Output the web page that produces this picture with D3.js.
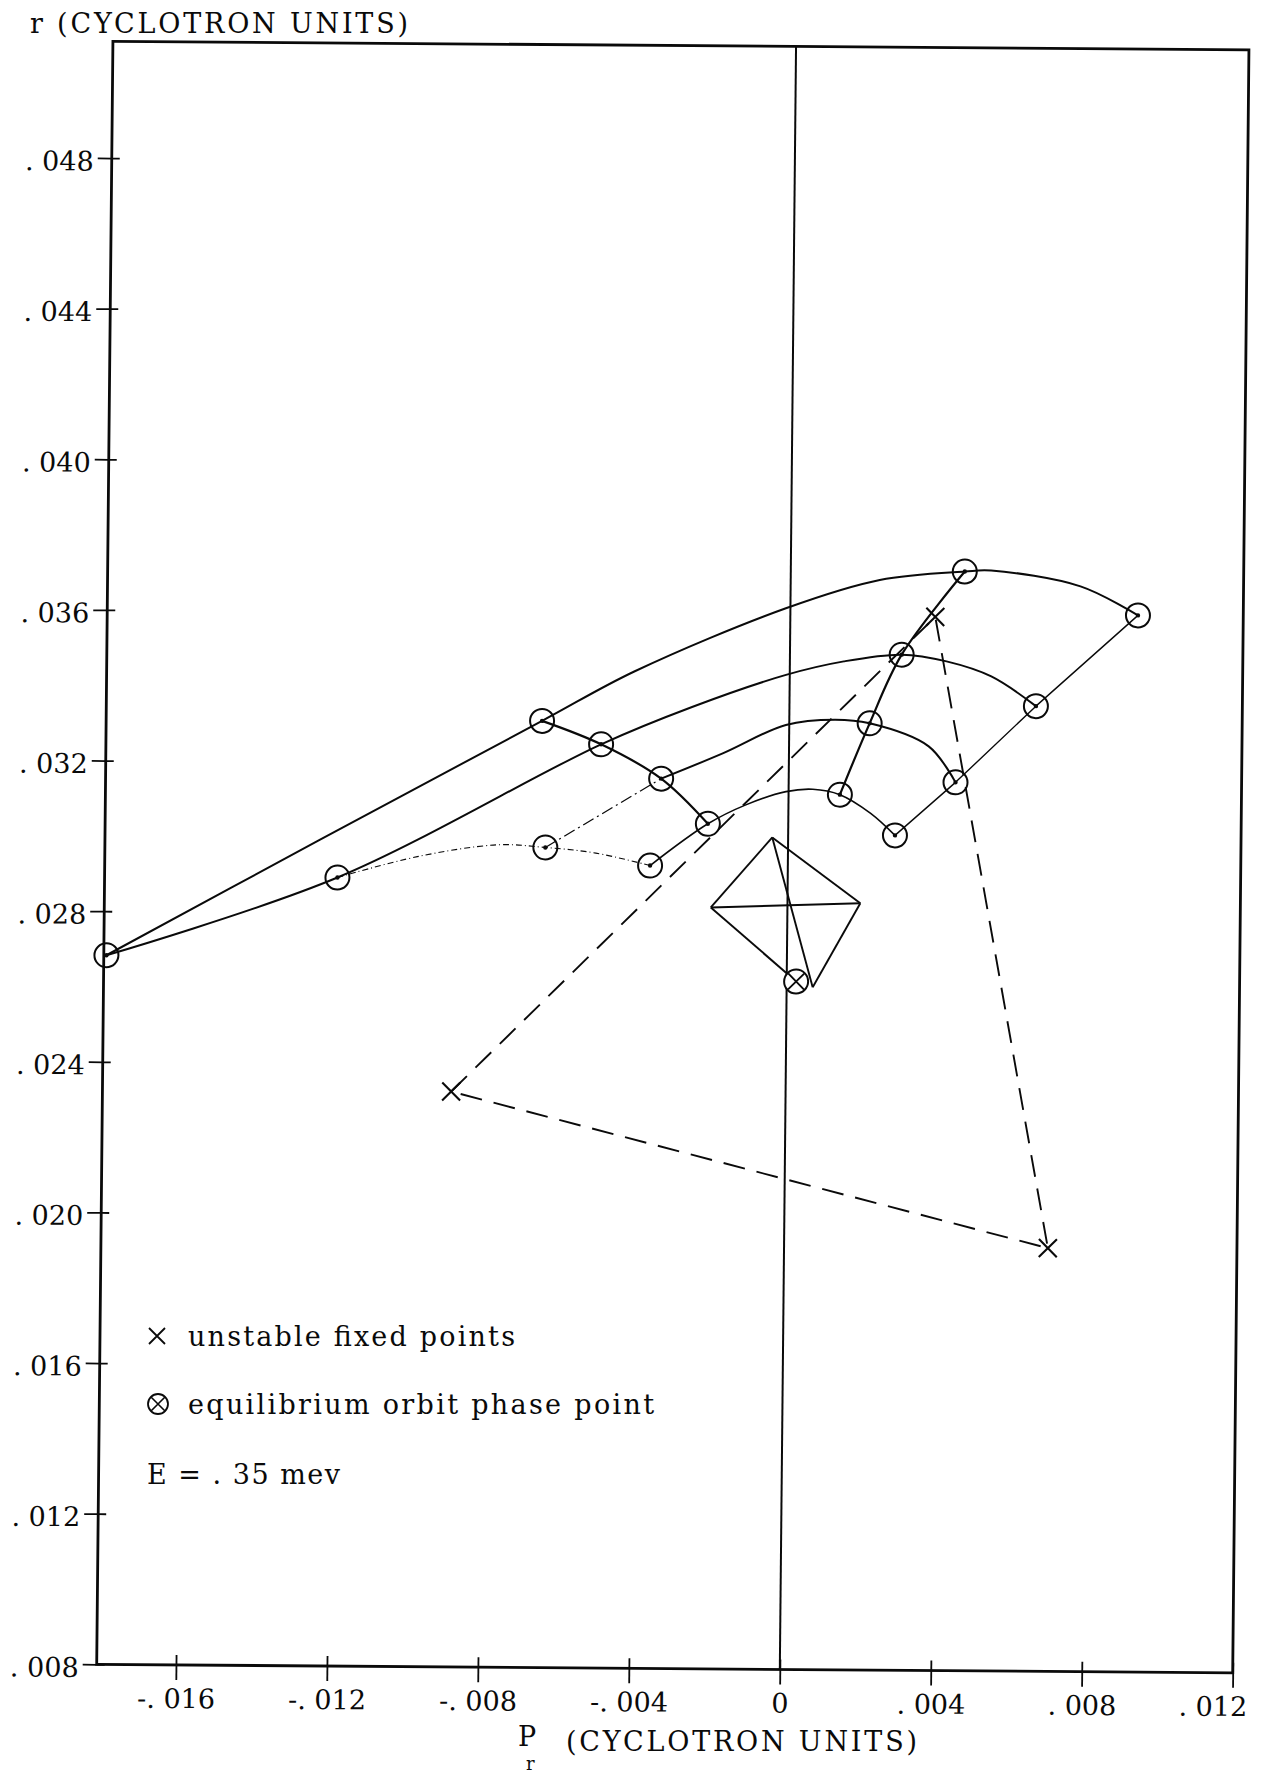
<!DOCTYPE html>
<html>
<head>
<meta charset="utf-8">
<script src="https://cdn.jsdelivr.net/npm/d3@7/dist/d3.min.js"></script>
<style>
body { margin: 0; background: #fff; }
svg { display: block; }
text { font-family: "DejaVu Serif", serif; fill: #0a0a0a; }
.axis text { font-size: 27px; font-family: "DejaVu Serif", serif; fill: #0a0a0a; }
</style>
</head>
<body>
<div class="chart"></div>
<script>
// values, (Pr, r) in cyclotron units
var xTicks = [-0.016, -0.012, -0.008, -0.004, 0, 0.004, 0.008, 0.012];
var yTicks = [0.008, 0.012, 0.016, 0.020, 0.024, 0.028, 0.032, 0.036, 0.040, 0.044, 0.048];
var xMin = -0.0181, xMax = 0.012, yMin = 0.008, yMax = 0.0511;

// phase points (circles)
var phasePoints = [
  [-0.01803, 0.02683], [-0.01193, 0.02894], [-0.00655, 0.03314], [-0.00498, 0.03253],
  [-0.00338, 0.03163], [-0.00213, 0.03044], [-0.00643, 0.02978], [-0.00365, 0.02932],
  [0.00136, 0.03124], [0.00283, 0.03017], [0.00213, 0.03314], [0.00442, 0.03159],
  [0.00296, 0.03497], [0.00653, 0.03363], [0.00461, 0.03719], [0.00921, 0.03606]
];
var unstablePoints = [[-0.00886, 0.02328], [0.00384, 0.03598], [0.00699, 0.01924], [-0.00886, 0.02328]];
var eqPoint = [0.00025, 0.02627];

// trajectories
var outerCurve = [[-0.01803, 0.02683], [-0.01240, 0.02994], [-0.00655, 0.03314], [-0.00412, 0.03447],
  [-0.00012, 0.03618], [0.00236, 0.03695], [0.00461, 0.03719], [0.00531, 0.03722],
  [0.00768, 0.03682], [0.00921, 0.03606]];
var secondCurve = [[-0.01803, 0.02683], [-0.01193, 0.02894], [-0.00498, 0.03253], [-0.00258, 0.03354],
  [-0.00010, 0.03441], [0.00143, 0.03478], [0.00296, 0.03497], [0.00415, 0.03480],
  [0.00534, 0.03441], [0.00653, 0.03363]];
var thirdLead = [[-0.00643, 0.02978], [-0.00338, 0.03163]];
var thirdCurve = [[-0.00338, 0.03163], [-0.00174, 0.03232], [-0.00009, 0.03308], [0.00121, 0.03323],
  [0.00213, 0.03314], [0.00370, 0.03254], [0.00442, 0.03159]];
var fourthCurve = [[-0.00365, 0.02932], [-0.00213, 0.03044], [-0.00113, 0.03095], [-0.00007, 0.03131],
  [0.00064, 0.03138], [0.00136, 0.03124], [0.00218, 0.03075], [0.00283, 0.03017]];
var dottedCurve = [[-0.01193, 0.02894], [-0.00982, 0.02951], [-0.00769, 0.02984], [-0.00643, 0.02978],
  [-0.00509, 0.02964], [-0.00365, 0.02932]];
var leftChain = [[-0.00655, 0.03314], [-0.00498, 0.03253], [-0.00338, 0.03163], [-0.00213, 0.03044]];
var midChain = [[0.00461, 0.03719], [0.00296, 0.03497], [0.00213, 0.03314], [0.00136, 0.03124]];
var rightChain = [[0.00921, 0.03606], [0.00653, 0.03363], [0.00442, 0.03159], [0.00283, 0.03017]];

// small quadrilateral around the equilibrium point
var quadTop = [-0.00042, 0.03009], quadLeft = [-0.00203, 0.02822],
    quadRight = [0.00193, 0.02836], quadBottom = [0.00069, 0.02612];
var quadSegments = [[quadLeft, quadTop], [quadTop, quadRight], [quadLeft, quadRight],
  [quadTop, quadBottom], [quadRight, quadBottom], [quadLeft, eqPoint]];

var svgWidth = 1266, svgHeight = 1775;
var plotW = 1136, plotH = 1623;

var svg = d3.select(".chart").append("svg")
  .attr("width", svgWidth)
  .attr("height", svgHeight);
svg.append("rect").attr("width", svgWidth).attr("height", svgHeight).attr("fill", "#fff");

// the scanned page is a little skewed, so the plot gets a small shear
var chart = svg.append("g").attr("transform", "matrix(1,0.0075,-0.01,1,96.7,1664.3)");

var x = d3.scaleLinear().domain([xMin, xMax]).range([0, plotW]);
var y = d3.scaleLinear().domain([yMin, yMax]).range([0, -plotH]);

var fmt = function(d) {
  if (d === 0) return "0";
  var s = String(Math.round(Math.abs(d) * 1000)).padStart(3, "0");
  return (d < 0 ? "-. " : ". ") + s;
};

// axes (ticks cross the frame line)
var xAxis = chart.append("g").attr("class", "axis")
  .call(d3.axisBottom(x).tickValues(xTicks).tickSize(15).tickPadding(9).tickFormat(fmt));
chart.append("g").call(d3.axisBottom(x).tickValues(xTicks).tickSize(-10).tickFormat(""));
var yAxis = chart.append("g").attr("class", "axis")
  .call(d3.axisLeft(y).tickValues(yTicks).tickSize(14).tickPadding(4).tickFormat(fmt));
chart.append("g").call(d3.axisLeft(y).tickValues(yTicks).tickSize(-8).tickFormat(""));
chart.selectAll(".domain").remove();
chart.selectAll(".tick line").attr("stroke", "#0a0a0a").attr("stroke-width", 1.8);
yAxis.selectAll("text").attr("dy", "0.45em");
xAxis.selectAll("text").filter(function(d) { return d === 0.012; }).attr("dx", -20);

// frame and zero line
chart.append("rect")
  .attr("x", x(xMin)).attr("y", y(yMax))
  .attr("width", x(xMax) - x(xMin)).attr("height", y(yMin) - y(yMax))
  .attr("fill", "none").attr("stroke", "#0a0a0a").attr("stroke-width", 2.8);
chart.append("line")
  .attr("x1", x(0)).attr("x2", x(0)).attr("y1", y(yMin)).attr("y2", y(yMax))
  .attr("stroke", "#0a0a0a").attr("stroke-width", 2);

var smooth = d3.line().x(function(d) { return x(d[0]); }).y(function(d) { return y(d[1]); })
  .curve(d3.curveCatmullRom.alpha(0.5));
var straight = d3.line().x(function(d) { return x(d[0]); }).y(function(d) { return y(d[1]); });

function draw(data, gen, width, dash) {
  chart.append("path")
    .attr("d", gen(data))
    .attr("fill", "none")
    .attr("stroke", "#0a0a0a")
    .attr("stroke-width", width)
    .attr("stroke-dasharray", dash || null)
    .attr("stroke-linejoin", "round");
}

draw(outerCurve, smooth, 2);
draw(secondCurve, smooth, 2);
draw(thirdLead, straight, 1.3, "12,4,2,4");
draw(thirdCurve, smooth, 2);
draw(fourthCurve, smooth, 1.6);
draw(dottedCurve, smooth, 1.1, "6,3,1,3");
draw(leftChain, smooth, 2.2);
draw(midChain, smooth, 2.2);
draw(rightChain, straight, 1.4);
draw(unstablePoints, straight, 1.9, "22,12");
quadSegments.forEach(function(s) { draw(s, straight, 1.9); });

// circles
chart.selectAll("circle.pt")
  .data(phasePoints)
  .enter()
  .append("circle")
  .attr("class", "pt")
  .attr("cx", function(d) { return x(d[0]); })
  .attr("cy", function(d) { return y(d[1]); })
  .attr("r", 12)
  .attr("fill", "none")
  .attr("stroke", "#0a0a0a")
  .attr("stroke-width", 2);
chart.selectAll("circle.dot")
  .data(phasePoints)
  .enter()
  .append("circle")
  .attr("class", "dot")
  .attr("cx", function(d) { return x(d[0]); })
  .attr("cy", function(d) { return y(d[1]); })
  .attr("r", 2.2)
  .attr("fill", "#0a0a0a");

// unstable fixed points
function cross(g, cx, cy, s, w) {
  g.append("path")
    .attr("d", "M" + (cx - s) + "," + (cy - s) + "L" + (cx + s) + "," + (cy + s) +
               "M" + (cx - s) + "," + (cy + s) + "L" + (cx + s) + "," + (cy - s))
    .attr("stroke", "#0a0a0a").attr("stroke-width", w).attr("fill", "none");
}
unstablePoints.slice(0, 3).forEach(function(d) { cross(chart, x(d[0]), y(d[1]), 9, 2.1); });

// equilibrium orbit phase point
chart.append("circle")
  .attr("cx", x(eqPoint[0])).attr("cy", y(eqPoint[1])).attr("r", 12)
  .attr("fill", "#fff").attr("stroke", "#0a0a0a").attr("stroke-width", 2);
cross(chart, x(eqPoint[0]), y(eqPoint[1]), 8, 1.9);

// titles
svg.append("text").attr("x", 30).attr("y", 33).attr("font-size", 27)
  .attr("textLength", 378).attr("lengthAdjust", "spacing")
  .text("r (CYCLOTRON UNITS)");
svg.append("text").attr("x", 518).attr("y", 1746).attr("font-size", 27).text("P");
svg.append("text").attr("x", 526).attr("y", 1770).attr("font-size", 18).text("r");
svg.append("text").attr("x", 566).attr("y", 1751).attr("font-size", 27)
  .attr("textLength", 351).attr("lengthAdjust", "spacing")
  .text("(CYCLOTRON UNITS)");

// legend
cross(svg, 157, 1336, 8, 1.8);
svg.append("text").attr("x", 188).attr("y", 1346).attr("font-size", 27)
  .attr("textLength", 327).attr("lengthAdjust", "spacing")
  .text("unstable fixed points");
svg.append("circle").attr("cx", 158).attr("cy", 1404).attr("r", 10)
  .attr("fill", "none").attr("stroke", "#0a0a0a").attr("stroke-width", 1.8);
cross(svg, 158, 1404, 7, 1.6);
svg.append("text").attr("x", 188).attr("y", 1414).attr("font-size", 27)
  .attr("textLength", 466).attr("lengthAdjust", "spacing")
  .text("equilibrium orbit phase point");
svg.append("text").attr("x", 147).attr("y", 1484).attr("font-size", 27)
  .attr("textLength", 193).attr("lengthAdjust", "spacing")
  .text("E = . 35 mev");
</script>
</body>
</html>
